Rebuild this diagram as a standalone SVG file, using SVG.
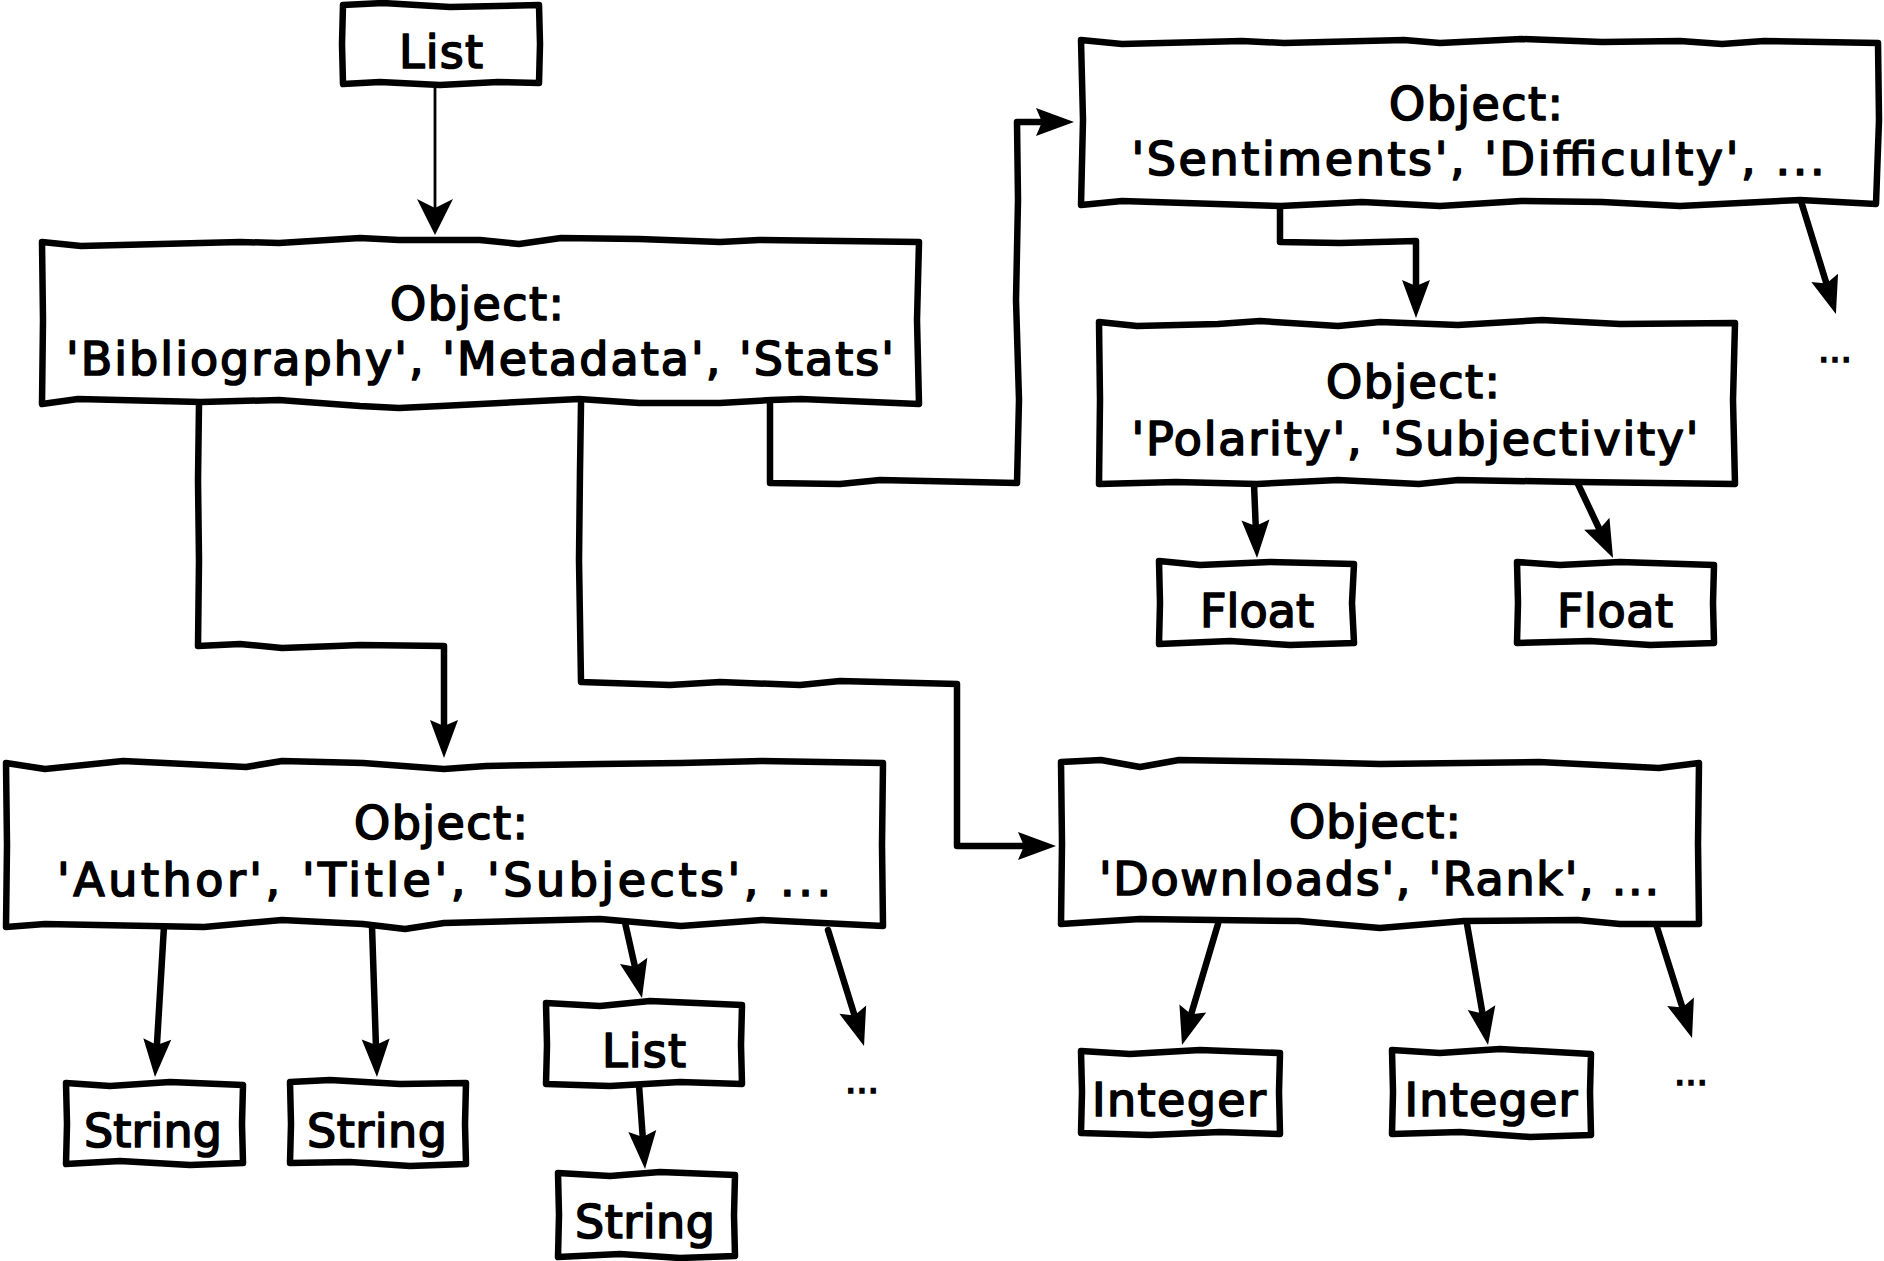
<svg xmlns="http://www.w3.org/2000/svg" width="1884" height="1261" viewBox="0 0 1884 1261">
<style>
.box{fill:#fff;stroke:#000;stroke-width:6.5;stroke-linejoin:round;stroke-linecap:round}
.t{font-family:"DejaVu Sans","Liberation Sans",sans-serif;font-size:46px;fill:#000;stroke:#000;stroke-width:1.7;stroke-linejoin:round;text-anchor:middle}
.dots{font-family:"DejaVu Sans","Liberation Sans",sans-serif;font-size:36px;fill:#000;stroke:#000;stroke-width:1.6;text-anchor:middle}
.c{fill:none;stroke:#000;stroke-width:6.5;stroke-linejoin:round;stroke-linecap:round}
.thin{fill:none;stroke:#000;stroke-width:2.8}
</style>
<defs>
<marker id="ah" markerUnits="userSpaceOnUse" viewBox="-20 -16 42 32" refX="0" refY="0" markerWidth="42" markerHeight="32" orient="auto" overflow="visible">
<path d="M20,0 L-18,-14 L-12,0 L-18,14 Z" fill="#000"/>
</marker>
<marker id="aht" markerUnits="userSpaceOnUse" viewBox="-18 -20 40 40" refX="0" refY="0" markerWidth="40" markerHeight="40" orient="auto" overflow="visible">
<path d="M20,0 L-16,-18 L-7,0 L-16,18 Z" fill="#000"/>
</marker>
</defs>
<rect width="1884" height="1261" fill="#fff"/>
<g id="connectors">
<path class="thin" d="M435,84 L435,215" marker-end="url(#aht)"/>
<path class="c" d="M199,404 L198,480 L199,560 L198,646 L240,644 L282,648 L336,646 L360,645 L444,646 L444,738" marker-end="url(#ah)"/>
<path class="c" d="M581,404 L580,470 L579,560 L581,682 L670,685 L720,682 L800,685 L840,681 L957,684 L957,846 L1036,846" marker-end="url(#ah)"/>
<path class="c" d="M770,404 L770,483 L840,484 L880,480 L1017,483 L1019,400 L1016,300 L1018,200 L1017,122 L1054,122" marker-end="url(#ah)"/>
<path class="c" d="M1280,203 L1280,242 L1340,243 L1416,241 L1416,298" marker-end="url(#ah)"/>
<path class="c" d="M1800,198 L1830,295" marker-end="url(#ah)"/>
<path class="c" d="M1254,484 L1256.2,538" marker-end="url(#ah)"/>
<path class="c" d="M1578,484 L1604.5,540" marker-end="url(#ah)"/>
<path class="c" d="M164,926 L156.2,1057" marker-end="url(#ah)"/>
<path class="c" d="M372,926 L376.3,1057" marker-end="url(#ah)"/>
<path class="c" d="M624,918 L637.6,978.5" marker-end="url(#ah)"/>
<path class="c" d="M828,930 L858.1,1026.9" marker-end="url(#ah)"/>
<path class="c" d="M639,1085 L643.6,1149" marker-end="url(#ah)"/>
<path class="c" d="M1218,924 L1187.7,1025.8" marker-end="url(#ah)"/>
<path class="c" d="M1467,924 L1484.6,1025.3" marker-end="url(#ah)"/>
<path class="c" d="M1656,924 L1686,1018.9" marker-end="url(#ah)"/>
</g>
<g id="list-root">
<path class="box" d="M343,5 L383,3 L450,7 L539,5 L540,44 L539,83 L498,82 L440,85 L380,82 L343,84 L342,44 Z"/>
<text class="t" x="441" y="68" textLength="84" lengthAdjust="spacing">List</text>
</g>
<g id="obj-root">
<path class="box" d="M42,242 L81,246 L240,242 L279,243 L360,238 L399,240 L480,240 L519,244 L561,238 L639,239 L720,242 L759,240 L919,242 L917,320 L919,404 L801,399 L771,400 L720,403 L639,403 L579,399 L441,406 L399,408 L360,406 L279,400 L201,402 L78,399 L42,404 L43,320 Z"/>
<text class="t" x="477" y="320" textLength="174" lengthAdjust="spacing">Object:</text>
<text class="t" x="480" y="375" textLength="828" lengthAdjust="spacing">'Bibliography', 'Metadata', 'Stats'</text>
</g>
<g id="obj-stats">
<path class="box" d="M1081,40 L1122,44 L1242,41 L1284,43 L1404,40 L1440,43 L1521,39 L1602,42 L1680,41 L1722,44 L1764,41 L1878,43 L1879,120 L1876,204 L1800,200 L1680,206 L1602,202 L1521,201 L1440,206 L1362,202 L1281,206 L1122,201 L1081,205 L1083,120 Z"/>
<text class="t" x="1476" y="120" textLength="174" lengthAdjust="spacing">Object:</text>
<text class="t" x="1478" y="175" textLength="693" lengthAdjust="spacing">'Sentiments', 'Difficulty', ...</text>
</g>
<g id="obj-sentiments">
<path class="box" d="M1099,322 L1137,326 L1218,324 L1260,321 L1338,326 L1380,322 L1458,325 L1542,320 L1620,324 L1735,323 L1733,400 L1735,484 L1578,482 L1458,480 L1419,484 L1338,480 L1257,484 L1176,482 L1099,484 L1100,400 Z"/>
<text class="t" x="1413" y="398" textLength="174" lengthAdjust="spacing">Object:</text>
<text class="t" x="1415" y="455" textLength="567" lengthAdjust="spacing">'Polarity', 'Subjectivity'</text>
</g>
<g id="float-1">
<path class="box" d="M1159,561 L1200,565 L1270,562 L1354,564 L1352,603 L1354,643 L1290,645 L1230,641 L1159,644 L1160,603 Z"/>
<text class="t" x="1257" y="627" textLength="114" lengthAdjust="spacing">Float</text>
</g>
<g id="float-2">
<path class="box" d="M1517,562 L1560,565 L1620,562 L1714,565 L1713,603 L1714,643 L1650,645 L1590,641 L1517,643 L1518,603 Z"/>
<text class="t" x="1615" y="627" textLength="116" lengthAdjust="spacing">Float</text>
</g>
<g id="more-sentiments">
<text class="dots" x="1835" y="362" textLength="34" lengthAdjust="spacing">...</text>
</g>
<g id="obj-bibliography">
<path class="box" d="M6,763 L45,769 L123,761 L165,763 L246,767 L282,761 L363,763 L444,769 L486,766 L600,764 L681,763 L762,761 L883,763 L882,845 L883,926 L762,920 L681,926 L600,919 L444,923 L405,929 L363,924 L282,920 L204,927 L45,924 L6,927 L7,845 Z"/>
<text class="t" x="441" y="839" textLength="174" lengthAdjust="spacing">Object:</text>
<text class="t" x="444" y="896" textLength="774" lengthAdjust="spacing">'Author', 'Title', 'Subjects', ...</text>
</g>
<g id="string-1">
<path class="box" d="M66,1083 L110,1086 L170,1082 L243,1085 L242,1124 L243,1163 L190,1165 L120,1161 L66,1164 L67,1124 Z"/>
<text class="t" x="153" y="1147" textLength="138" lengthAdjust="spacing">String</text>
</g>
<g id="string-2">
<path class="box" d="M290,1082 L330,1080 L400,1084 L466,1083 L465,1124 L466,1164 L410,1166 L350,1162 L290,1163 L291,1124 Z"/>
<text class="t" x="377" y="1147" textLength="140" lengthAdjust="spacing">String</text>
</g>
<g id="list-subjects">
<path class="box" d="M546,1003 L600,1006 L650,1001 L742,1005 L741,1045 L742,1084 L680,1082 L610,1086 L546,1084 L547,1045 Z"/>
<text class="t" x="644" y="1067" textLength="84" lengthAdjust="spacing">List</text>
</g>
<g id="string-3">
<path class="box" d="M558,1173 L610,1176 L660,1172 L735,1175 L734,1215 L735,1256 L680,1258 L620,1254 L558,1257 L559,1215 Z"/>
<text class="t" x="645" y="1238" textLength="140" lengthAdjust="spacing">String</text>
</g>
<g id="more-bibliography">
<text class="dots" x="862" y="1093" textLength="34" lengthAdjust="spacing">...</text>
</g>
<g id="obj-metadata">
<path class="box" d="M1061,762 L1101,760 L1140,767 L1179,760 L1299,762 L1380,764 L1539,762 L1659,768 L1699,763 L1698,843 L1699,924 L1620,924 L1578,920 L1464,921 L1380,928 L1299,921 L1140,919 L1061,924 L1062,843 Z"/>
<text class="t" x="1375" y="838" textLength="172" lengthAdjust="spacing">Object:</text>
<text class="t" x="1379" y="895" textLength="560" lengthAdjust="spacing">'Downloads', 'Rank', ...</text>
</g>
<g id="integer-1">
<path class="box" d="M1081,1051 L1130,1054 L1200,1050 L1280,1053 L1279,1092 L1280,1134 L1220,1132 L1150,1135 L1081,1133 L1082,1092 Z"/>
<text class="t" x="1179" y="1116" textLength="174" lengthAdjust="spacing">Integer</text>
</g>
<g id="integer-2">
<path class="box" d="M1392,1050 L1440,1053 L1500,1049 L1591,1054 L1590,1092 L1591,1135 L1530,1137 L1460,1132 L1392,1134 L1393,1092 Z"/>
<text class="t" x="1491" y="1116" textLength="173" lengthAdjust="spacing">Integer</text>
</g>
<g id="more-metadata">
<text class="dots" x="1691" y="1085" textLength="34" lengthAdjust="spacing">...</text>
</g>
</svg>
